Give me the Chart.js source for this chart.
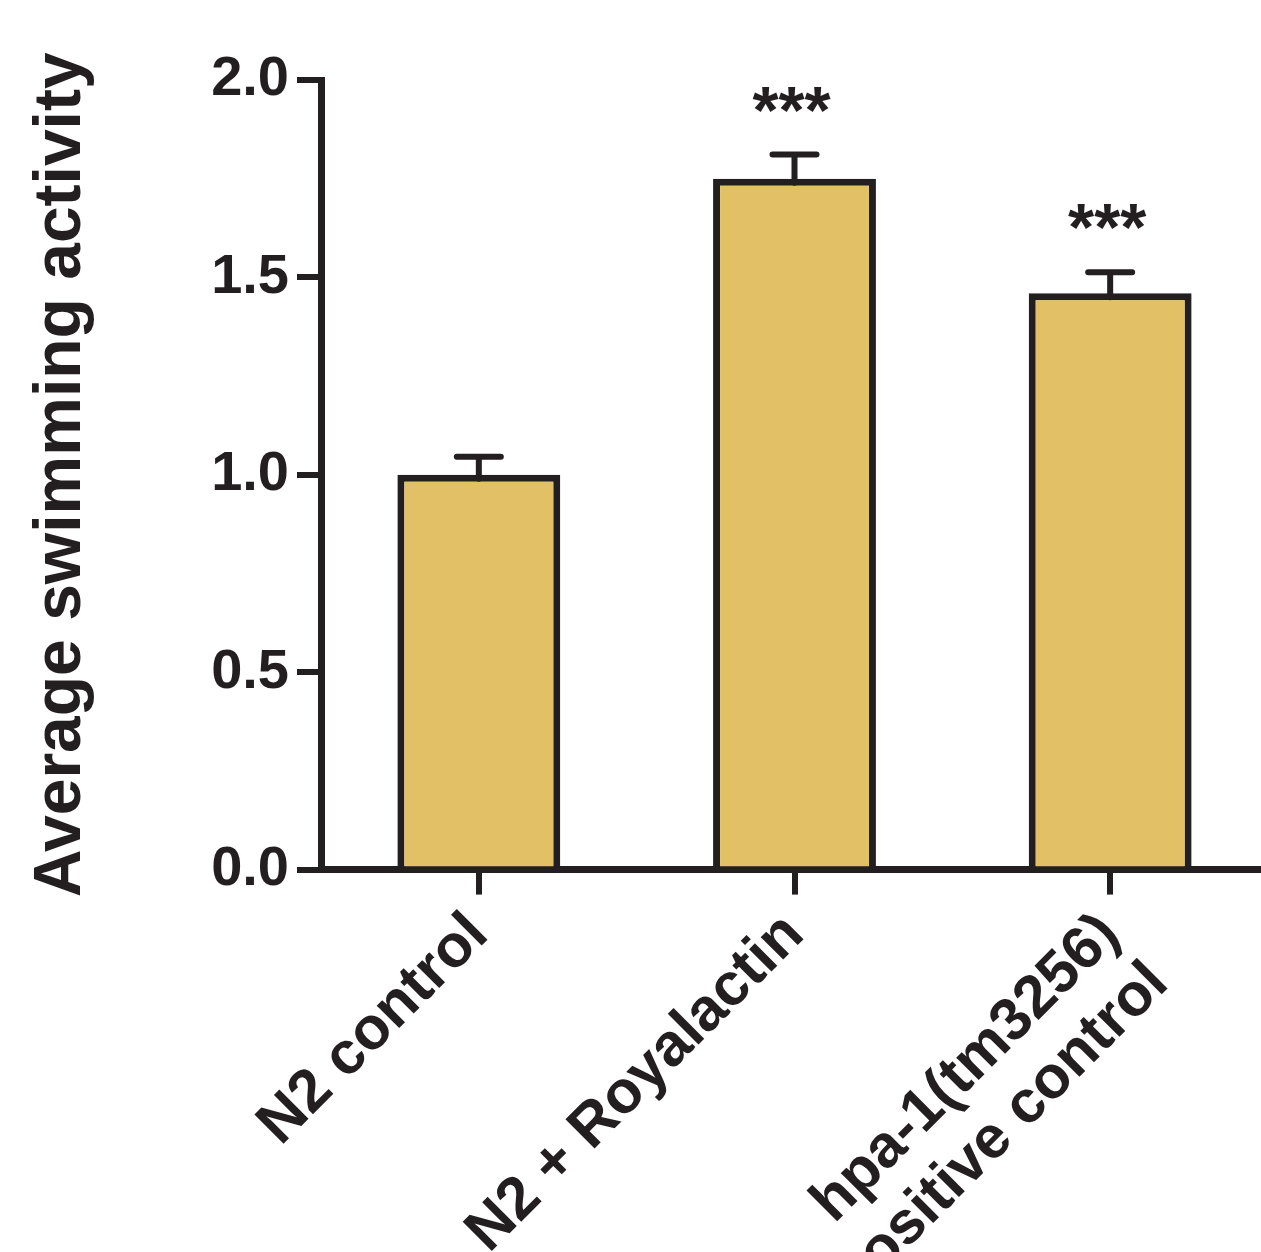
<!DOCTYPE html>
<html>
<head>
<meta charset="utf-8">
<script src="https://cdn.jsdelivr.net/npm/chart.js@4/dist/chart.umd.min.js"></script>
<style>
  html, body { margin: 0; padding: 0; background: #fff; overflow: hidden; }
  #wrap { width: 1268px; height: 1252px; }
</style>
</head>
<body>
<div id="wrap"><canvas id="myChart"></canvas></div>
<script>
const categories = ['N2 control', 'N2 + Royalactin', ['hpa-1(tm3256)', 'positive control']];
const means = [1.00, 1.75, 1.46];
const sems = [0.046, 0.061, 0.053];
const stars = ['', '***', '***'];
const yTickLabels = ['0.0', '0.5', '1.0', '1.5', '2.0'];

const ink = '#231F20';
const fill = '#E2C166';
const fam = '"Liberation Sans", Arial, Helvetica, sans-serif';

// error bars + significance stars, drawn from the scales
const extras = {
    id: 'extras',
    afterDatasetsDraw(chart) {
        const ctx = chart.ctx;
        const x = chart.scales.x;
        const y = chart.scales.y;
        ctx.save();
        ctx.strokeStyle = ink;
        ctx.fillStyle = ink;
        ctx.lineWidth = 6;
        ctx.lineCap = 'round';
        means.forEach((m, i) => {
            const px = x.getPixelForValue(i);
            const yBar = y.getPixelForValue(m);
            const yTop = y.getPixelForValue(m + sems[i]);
            ctx.beginPath();
            ctx.moveTo(px, yBar + 4);
            ctx.lineTo(px, yTop);
            ctx.moveTo(px - 22, yTop);
            ctx.lineTo(px + 22, yTop);
            ctx.stroke();
            if (stars[i]) {
                ctx.font = 'bold 67px ' + fam;
                ctx.textAlign = 'center';
                ctx.textBaseline = 'alphabetic';
                const d = ctx.measureText(stars[i]).actualBoundingBoxDescent;
                ctx.fillText(stars[i], px - 3, yTop - 43 - d);
            }
        });
        ctx.restore();
    }
};

const ctx = document.getElementById('myChart').getContext('2d');
const myChart = new Chart(ctx, {
    type: 'bar',
    data: {
        labels: categories,
        datasets: [{
            data: means,
            backgroundColor: fill,
            borderColor: ink,
            borderWidth: 7,
            borderSkipped: 'start',
            barPercentage: 0.516,
            categoryPercentage: 1
        }]
    },
    plugins: [extras],
    options: {
        responsive: true,
        maintainAspectRatio: false,
        animation: false,
        devicePixelRatio: 1,
        layout: { padding: { top: 80, left: 0, right: 0, bottom: 0 } },
        plugins: { legend: { display: false }, tooltip: { enabled: false } },
        scales: {
            x: {
                afterFit: (s) => { s.height = 1252 - 869.6; },
                border: { display: true, color: ink, width: 7 },
                grid: { display: true, drawOnChartArea: false, offset: false, color: ink, lineWidth: 6, tickLength: 25 },
                ticks: {
                    color: ink,
                    font: { family: fam, size: 60, weight: 'bold', lineHeight: 1.15 },
                    maxRotation: 45,
                    minRotation: 45,
                    padding: 6,
                    autoSkip: false
                }
            },
            y: {
                min: 0,
                max: 2,
                afterFit: (s) => { s.width = 321; },
                border: { display: true, color: ink, width: 7 },
                grid: { display: true, drawOnChartArea: false, color: ink, lineWidth: 6, tickLength: 24 },
                ticks: {
                    stepSize: 0.5,
                    color: ink,
                    padding: 8,
                    font: { family: fam, size: 56, weight: 'bold' },
                    callback: (v, i) => yTickLabels[i]
                },
                title: {
                    display: true,
                    text: 'Average swimming activity',
                    color: ink,
                    padding: { top: 22, bottom: 0 },
                    font: { family: fam, size: 66, weight: 'bold', lineHeight: 1.2 }
                }
            }
        }
    }
});
</script>
</body>
</html>
